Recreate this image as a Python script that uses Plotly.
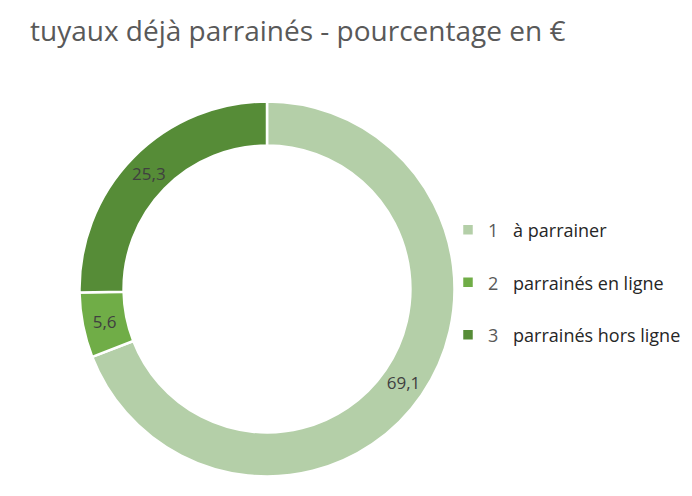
import plotly.graph_objects as go

categories = ["1", "2", "3"]
labels = ["à parrainer", "parrainés en ligne", "parrainés hors ligne"]
values = [69.1, 5.6, 25.3]
colors = ["#B4CFA8", "#70AD47", "#568C37"]

NB = "&nbsp;"
legend_names = [
    f"<span style='font-size:18px;color:#595959'>{c}</span>{NB*3}"
    f"<span style='font-size:18px;color:#262626'>{l}</span><br>{NB}"
    for c, l in zip(categories, labels)
]

cx, cy, R = 259, 281, 187.5
fig = go.Figure(go.Pie(
    labels=legend_names,
    values=values,
    hole=0.765,
    sort=False,
    direction="clockwise",
    rotation=0,
    marker=dict(colors=colors, line=dict(color="white", width=2.5)),
    texttemplate="%{value:.1f}",
    textposition="inside",
    insidetextorientation="horizontal",
    textfont=dict(family="Open Sans", size=17, color="#404040"),
    domain=dict(x=[(cx - R) / 692, (cx + R) / 692],
                y=[1 - (cy + R) / 496, 1 - (cy - R) / 496]),
    hoverinfo="skip",
))

fig.update_layout(
    width=692, height=496,
    margin=dict(l=0, r=0, t=0, b=0),
    paper_bgcolor="white",
    separators=", ",
    uniformtext=dict(minsize=17, mode="show"),
    title=dict(text="tuyaux déjà parrainés - pourcentage en €",
               x=22 / 692, xanchor="left", y=1 - 23 / 496, yanchor="middle",
               font=dict(family="Open Sans", size=28, color="#595959")),
    legend=dict(x=440 / 692, xanchor="left", y=1 - 203 / 496, yanchor="top",
                valign="top", font=dict(family="Open Sans", size=19, color="#262626"),
                bgcolor="rgba(0,0,0,0)"),
    showlegend=True,
)

fig.write_html("out.html")
